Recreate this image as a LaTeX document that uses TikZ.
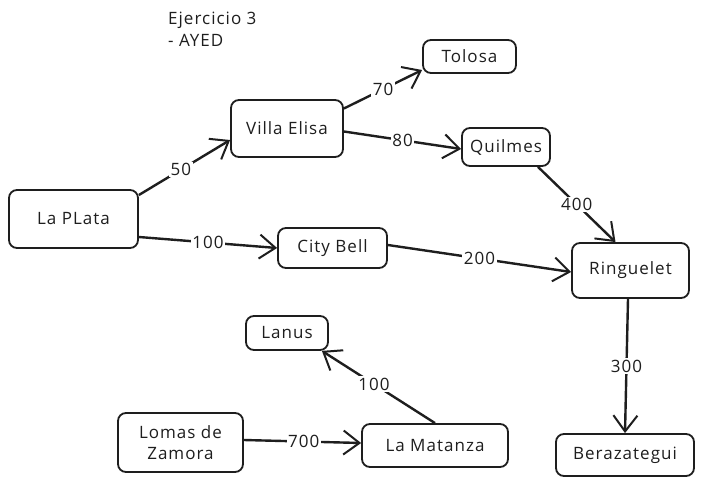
\documentclass[tikz,border=0pt]{standalone}
\usepackage{fontspec}
\setmainfont{Open Sans}[LetterSpace=6]
\usetikzlibrary{arrows.meta}
\definecolor{ink}{HTML}{1E1E1E}
\tikzset{
  box/.style={draw=ink, line width=1.8pt, rounded corners=8pt, inner sep=0pt, align=center, text=ink, font=\fontsize{17}{21}\selectfont},
  conn/.style={draw=ink, line width=2.4pt, -{Straight Barb[length=16pt,width=24pt,line width=2pt]}},
  lbl/.style={fill=white, inner sep=1.5pt, text=ink, font=\fontsize{17}{20}\selectfont},
}
\begin{document}
\begin{tikzpicture}[x=1pt,y=-1pt]
\useasboundingbox[fill=white] (0,0) rectangle (706,486);
% nodes
\node[box, minimum width=129pt, minimum height=58pt] (lp) at (73.5,219) {La PLata};
\node[box, minimum width=112pt, minimum height=57pt] (ve) at (287,128.5) {Villa Elisa};
\node[box, minimum width=93pt, minimum height=33pt] (to) at (469.5,56.5) {Tolosa};
\node[box, minimum width=88pt, minimum height=38pt] (qu) at (506,147) {Quilmes};
\node[box, minimum width=109pt, minimum height=40pt] (cb) at (332.5,248) {City Bell};
\node[box, minimum width=117pt, minimum height=55pt] (ri) at (630.5,270.5) {Ringuelet};
\node[box, minimum width=138pt, minimum height=42pt] (be) at (625,455) {Berazategui};
\node[box, minimum width=82pt, minimum height=34pt] (la) at (287,333) {Lanus};
\node[box, minimum width=125pt, minimum height=59pt] (lz) at (180.5,442.5) {Lomas de\\Zamora};
\node[box, minimum width=146pt, minimum height=43pt] (lm) at (435,445.5) {La Matanza};
\node[anchor=north west, align=left, text=ink, inner sep=0pt, font=\fontsize{17}{22}\selectfont] (title) at (168,12) {Ejercicio 3\\- AYED};
% connectors
\draw[conn] ([yshift=24pt]lp.east) -- ([yshift=-11.5pt]ve.west) node[lbl, pos=0.46] {50};
\draw[conn] ([yshift=-18pt]lp.east) -- (cb.west) node[lbl, midway] {100};
\draw[conn] ([yshift=20pt]ve.east) -- ([yshift=-13.5pt]to.west) node[lbl, midway] {70};
\draw[conn] ([yshift=-3pt]ve.east) -- ([yshift=-2pt]qu.west) node[lbl, midway] {80};
\draw[conn] ([xshift=32pt]qu.south) -- ([xshift=-15pt]ri.north) node[lbl, midway] {400};
\draw[conn] ([yshift=3pt]cb.east) -- ([yshift=-1.5pt]ri.west) node[lbl, midway] {200};
\draw[conn] ([xshift=-2.5pt]ri.south) -- (be.north) node[lbl, midway] {300};
\draw[conn] (lm.north) -- ([xshift=-7pt]la.south east) node[lbl, pos=0.54] {100};
\draw[conn] ([yshift=2.5pt]lz.east) -- ([yshift=2.5pt]lm.west) node[lbl, pos=0.51] {700};
\end{tikzpicture}
\end{document}
